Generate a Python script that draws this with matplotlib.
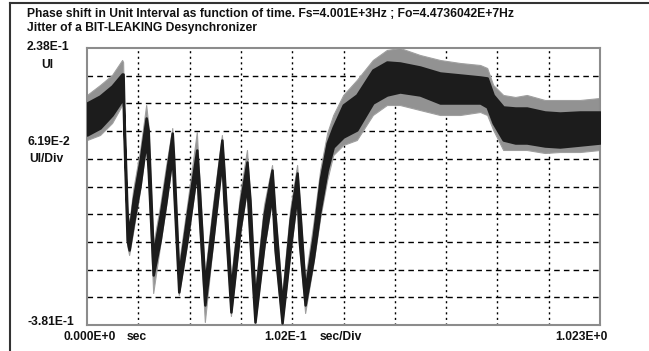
import matplotlib
matplotlib.use("Agg")
import matplotlib.pyplot as plt
from matplotlib.lines import Line2D

# time (sec) and phase shift (UI): dense core band and spike extremes
t = [0.000, 0.026, 0.050, 0.070, 0.072, 0.074, 0.080, 0.084, 0.092, 0.106,
     0.118, 0.122, 0.132, 0.146, 0.158, 0.170, 0.173, 0.183, 0.201, 0.219,
     0.223, 0.235, 0.251, 0.269, 0.273, 0.287, 0.305, 0.319, 0.325, 0.335,
     0.353, 0.369, 0.375, 0.389, 0.405, 0.419, 0.423, 0.435, 0.451, 0.465,
     0.479, 0.491, 0.511, 0.538, 0.570, 0.598, 0.624, 0.664, 0.704, 0.744,
     0.784, 0.798, 0.810, 0.830, 0.854, 0.877, 0.913, 0.943, 0.983, 1.023]
core_hi = [0.1151, 0.1307, 0.1531, 0.1799, 0.1799, 0.0771, -0.1352, -0.1732, -0.1017, -0.0123,
           0.0816, 0.0548, -0.2246, -0.1352, -0.0458, 0.0480, -0.0123, -0.2693, -0.1240, 0.0101,
           -0.0570, -0.2916, -0.1352, 0.0324, -0.0346, -0.3028, -0.1128, -0.0168, -0.1017, -0.3251,
           -0.1352, -0.0346, -0.1352, -0.3363, -0.1464, -0.0413, -0.1017, -0.3028, -0.1844, -0.0570,
           0.0257, 0.0615, 0.1106, 0.1330, 0.1888, 0.2067, 0.2045, 0.1955, 0.1821, 0.1777,
           0.1732, 0.1710, 0.1330, 0.1062, 0.1039, 0.1039, 0.0950, 0.0927, 0.0950, 0.0950]
core_lo = [0.0436, 0.0592, 0.0883, 0.1218, 0.1218, 0.0324, -0.1911, -0.2134, -0.1575, -0.0681,
           0.0324, -0.0346, -0.2693, -0.1911, -0.1017, -0.0011, -0.0793, -0.3073, -0.1799, -0.0346,
           -0.1240, -0.3363, -0.1911, -0.0123, -0.1017, -0.3520, -0.1687, -0.0681, -0.1911, -0.3743,
           -0.2022, -0.0905, -0.2134, -0.3765, -0.2134, -0.0860, -0.1911, -0.3363, -0.2358, -0.1240,
           -0.0346, 0.0168, 0.0391, 0.0548, 0.1151, 0.1330, 0.1397, 0.1330, 0.1151, 0.1151,
           0.1151, 0.1062, 0.0704, 0.0324, 0.0257, 0.0257, 0.0190, 0.0168, 0.0212, 0.0257]
spike_hi = [0.1330, 0.1553, 0.1777, 0.2112, 0.2067, 0.0994, -0.1128, -0.1575, -0.0793, 0.0101,
            0.1106, 0.0704, -0.2022, -0.1128, -0.0235, 0.0592, -0.0011, -0.2469, -0.1017, 0.0503,
            -0.0346, -0.2693, -0.1128, 0.0436, -0.0235, -0.2804, -0.0905, 0.0101, -0.0905, -0.3028,
            -0.1128, -0.0235, -0.1240, -0.3140, -0.1240, -0.0235, -0.0905, -0.2804, -0.1575, -0.0346,
            0.0480, 0.0883, 0.1330, 0.1665, 0.2112, 0.2336, 0.2380, 0.2224, 0.2112, 0.2045,
            0.2000, 0.1933, 0.1553, 0.1330, 0.1285, 0.1330, 0.1218, 0.1218, 0.1218, 0.1263]
spike_lo = [0.0324, 0.0436, 0.0704, 0.1106, 0.1218, 0.0212, -0.2022, -0.2246, -0.1732, -0.0793,
            0.0212, -0.0458, -0.3095, -0.2022, -0.1128, -0.0123, -0.0905, -0.3140, -0.1911, -0.0458,
            -0.1352, -0.3743, -0.2022, -0.0235, -0.1128, -0.3609, -0.1799, -0.0793, -0.2022, -0.3810,
            -0.2134, -0.1017, -0.2246, -0.3810, -0.2246, -0.1017, -0.2022, -0.3542, -0.2470, -0.1419,
            -0.0570, -0.0011, 0.0212, 0.0324, 0.0883, 0.1106, 0.1106, 0.0994, 0.0883, 0.0883,
            0.0950, 0.0883, 0.0548, 0.0101, 0.0101, 0.0101, 0.0034, 0.0056, 0.0056, 0.0101]

t_max = 1.023
y_min, y_max = -0.381, 0.238

W, H = 649, 351
fig = plt.figure(figsize=(W / 100, H / 100), dpi=100)
fig.patch.set_facecolor("white")

ax = fig.add_axes([87 / W, 1 - 325 / H, 513 / W, 277 / H])
ax.set_xlim(0, t_max)
ax.set_ylim(y_min, y_max)

# scope style grid: 10 x 10 divisions
for i in range(1, 10):
    ax.axvline(t_max * i / 10, color="black", lw=1.0, ls=(0, (1.5, 2.5)), zorder=1)
    ax.axhline(y_min + (y_max - y_min) * i / 10, color="black", lw=1.0, ls=(0, (4, 3)), zorder=1)

ax.fill_between(t, spike_lo, spike_hi, color="#929292", lw=0.8, edgecolor="#a0a0a0", zorder=2)
ax.fill_between(t, core_lo, core_hi, color="#1c1c1c", lw=1.8, edgecolor="#1c1c1c", zorder=3)

ax.set_xticks([])
ax.set_yticks([])
for s in ax.spines.values():
    s.set_color("#8c8c8c")
    s.set_linewidth(1.5)

font = dict(family="Liberation Sans", weight="bold", size=8.7, color="#111111")


def label(x, y, s, ha="left"):
    fig.text(x / W, 1 - y / H, s, ha=ha, va="center", **font)


label(27, 14, "Phase shift in Unit Interval as function of time. Fs=4.001E+3Hz ; Fo=4.4736042E+7Hz")
label(27, 28, "Jitter of a BIT-LEAKING Desynchronizer")
label(27, 47, "2.38E-1")
label(47, 65, "UI", ha="center")
label(27, 142, "6.19E-2")
label(29, 159, "UI/Div")
label(27, 322, "-3.81E-1")
label(64, 337, "0.000E+0")
label(127, 337, "sec")
label(264, 337, "1.02E-1")
label(320, 337, "sec/Div")
label(555, 337, "1.023E+0")

# outer frame of the window
fig.add_artist(Line2D([10 / W, 1], [1 - 3 / H, 1 - 3 / H], color="#333333", lw=1.5))
fig.add_artist(Line2D([10 / W, 10 / W], [0, 1 - 3 / H], color="#333333", lw=1.5))

fig.savefig("out.png", dpi=100)
